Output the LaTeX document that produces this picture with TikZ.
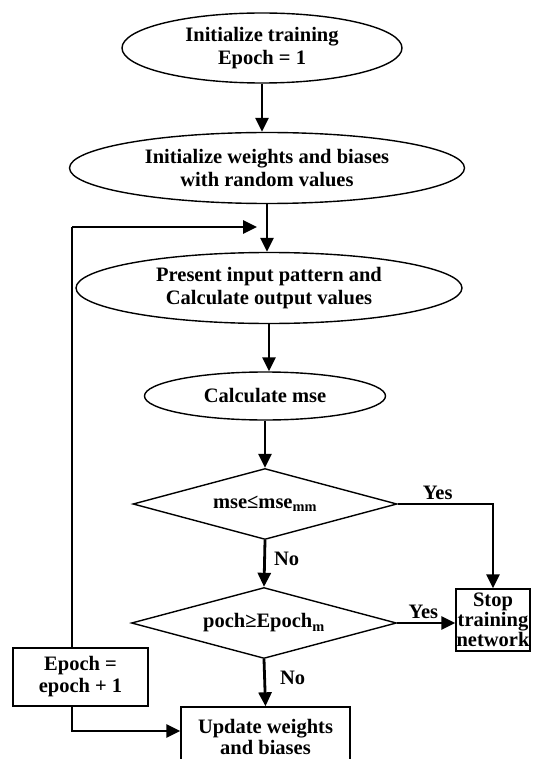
\documentclass[tikz,border=0pt]{standalone}
\usepackage{fontspec}
\setmainfont{Liberation Serif}
\usetikzlibrary{positioning,calc,shapes.geometric,arrows.meta}

\begin{document}
\begin{tikzpicture}[x=1pt,y=-1pt,
	every node/.style={font=\fontsize{20.5}{23}\selectfont\bfseries,align=center,inner sep=0pt},
	oval/.style={ellipse,draw,line width=1.4pt},
	decision/.style={diamond,draw,line width=1.4pt},
	stepbox/.style={rectangle,draw,line width=1.4pt},
	flow/.style={line width=2.8pt,-{Triangle[length=14pt,width=13pt]}},
	loopline/.style={line width=1.6pt}]
	
	\clip (0,0) rectangle (542,759);
	
	% main column
	\node[oval,minimum width=280,minimum height=70] (init) at (262,48) {Initialize training\\Epoch = 1};
	
	\node[oval,minimum width=395,minimum height=71] (wts) at (267,168) {Initialize weights and biases\\with random values};
	
	\node[oval,minimum width=386,minimum height=71] (pres) at (269,288) {Present input pattern and\\Calculate output values};
	
	\node[oval,minimum width=241,minimum height=48] (mse) at (265,396) {Calculate mse};
	
	\node[decision,minimum width=264,minimum height=71,aspect=3.7] (dec1) at (265,504) {mse≤mse\textsubscript{mm}};
	
	\node[decision,minimum width=265,minimum height=71,aspect=3.7] (dec2) at (264,623) {poch≥Epoch\textsubscript{m}};
	
	\node[stepbox,minimum width=169,minimum height=60,font=\fontsize{20.5}{21}\selectfont\bfseries] (upd) at (265.5,737) {Update weights\\and biases};
	
	% side boxes
	\node[stepbox,minimum width=74,minimum height=62,inner ysep=2pt,font=\fontsize{20.5}{20}\selectfont\bfseries] (stop) at (493,620) {Stop\\training\\network};
	
	\node[stepbox,minimum width=135,minimum height=58,font=\fontsize{20.5}{22}\selectfont\bfseries] (epoch) at (80.5,677) {Epoch =\\epoch + 1};
	
	\coordinate (join) at (257,227);
	
	% connectors
	\draw[flow] (init) -- (init |- wts.north);
	\draw[flow] (wts) -- (wts |- pres.north);
	\draw[flow] (pres) -- (pres |- mse.north);
	\draw[flow] (mse) -- (dec1.north);
	\draw[flow] (dec1.south) -- node[right=8pt,pos=0.4] (no1) {No} (dec2.north);
	\draw[flow] (dec2.south) -- node[right=14pt,pos=0.4] (no2) {No} (upd.north);
	
	\draw[flow] (dec1.east) -| node[above=3pt,pos=0.21] (yes1) {Yes} (stop.north);
	\draw[flow] (dec2.east) -- node[above=3pt,pos=0.45] (yes2) {Yes} (dec2.east -| stop.west);
	
	% loop back
	\draw[loopline] ([xshift=-8.5pt]epoch.north) -- ([xshift=-8.5pt]epoch.north |- join);
	\draw[flow] ([xshift=-8.5pt]epoch.north |- join) -- (join);
	\draw[flow] ([xshift=-8.5pt]epoch.south) |- ([yshift=6pt]upd.west);
\end{tikzpicture}
\end{document}
